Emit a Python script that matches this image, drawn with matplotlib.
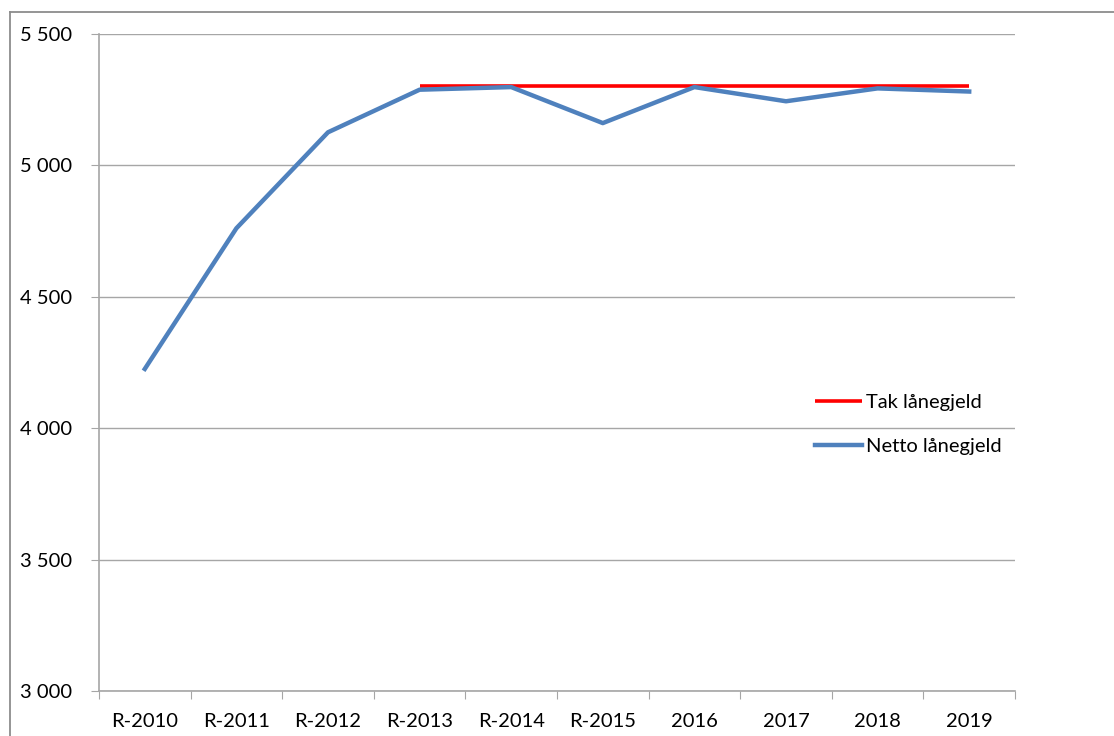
import matplotlib
matplotlib.use("Agg")
import matplotlib.pyplot as plt
from matplotlib.lines import Line2D
from matplotlib.ticker import FuncFormatter

plt.rcParams["font.family"] = ["Lato", "DejaVu Sans"]

years = ["R-2010", "R-2011", "R-2012", "R-2013", "R-2014",
         "R-2015", "2016", "2017", "2018", "2019"]
netto = [4225, 4760, 5125, 5287, 5297, 5160, 5297, 5243, 5292, 5280]
tak_years = ["R-2013", "R-2014", "R-2015", "2016", "2017", "2018", "2019"]
tak = [5300, 5300, 5300, 5300, 5300, 5300, 5300]

W, H = 1114, 736
FS = 14.5
fig = plt.figure(figsize=(W / 100, H / 100), dpi=100)
ax = fig.add_axes([99 / W, 1 - 691 / H, (1015 - 99) / W, (691 - 33.7) / H])

x_all = list(range(len(years)))
x_tak = [years.index(y) for y in tak_years]

ax.plot(x_tak, tak, color="#FF0000", lw=2.6, label="Tak lånegjeld",
        solid_capstyle="butt", zorder=3)
ax.plot(x_all, netto, color="#4F81BD", lw=3.2, label="Netto lånegjeld",
        solid_joinstyle="round", zorder=4)

ax.set_xlim(-0.5, len(years) - 0.5)
ax.set_ylim(3000, 5500)
ax.set_yticks([3000, 3500, 4000, 4500, 5000, 5500])
ax.yaxis.set_major_formatter(FuncFormatter(lambda v, p: f"{int(v):,}".replace(",", " ")))
ax.grid(axis="y", color="#A6A6A6", lw=1.0)
ax.set_axisbelow(True)

# category boundaries get the ticks, labels sit at the centres
ax.set_xticks([i - 0.5 for i in range(len(years) + 1)])
ax.set_xticklabels([])
ax.set_xticks(x_all, minor=True)
ax.set_xticklabels(years, minor=True)
ax.tick_params(axis="x", which="major", length=6, color="#A6A6A6", direction="out")
ax.tick_params(axis="x", which="minor", length=0, pad=16, labelsize=FS)
ax.tick_params(axis="y", length=6, color="#A6A6A6", direction="out", pad=13, labelsize=FS)

for s in ["top", "right"]:
    ax.spines[s].set_visible(False)
for s in ["left", "bottom"]:
    ax.spines[s].set_color("#A6A6A6")
    ax.spines[s].set_linewidth(1.2)

ax.legend(loc="center left", bbox_to_anchor=(815 / W, 1 - 424.4 / H),
          bbox_transform=fig.transFigure, frameon=False, fontsize=FS,
          handlelength=2.35, handletextpad=0.2, labelspacing=1.3,
          borderpad=0, borderaxespad=0)

# outer chart frame, cropped at the right and bottom
fig.add_artist(Line2D([10 / W, 10 / W], [0, 1 - 12 / H], color="#8C8C8C", lw=1.3,
                      transform=fig.transFigure))
fig.add_artist(Line2D([10 / W, 1], [1 - 12 / H, 1 - 12 / H], color="#8C8C8C", lw=1.3,
                      transform=fig.transFigure))

fig.savefig("out.png", dpi=100)
